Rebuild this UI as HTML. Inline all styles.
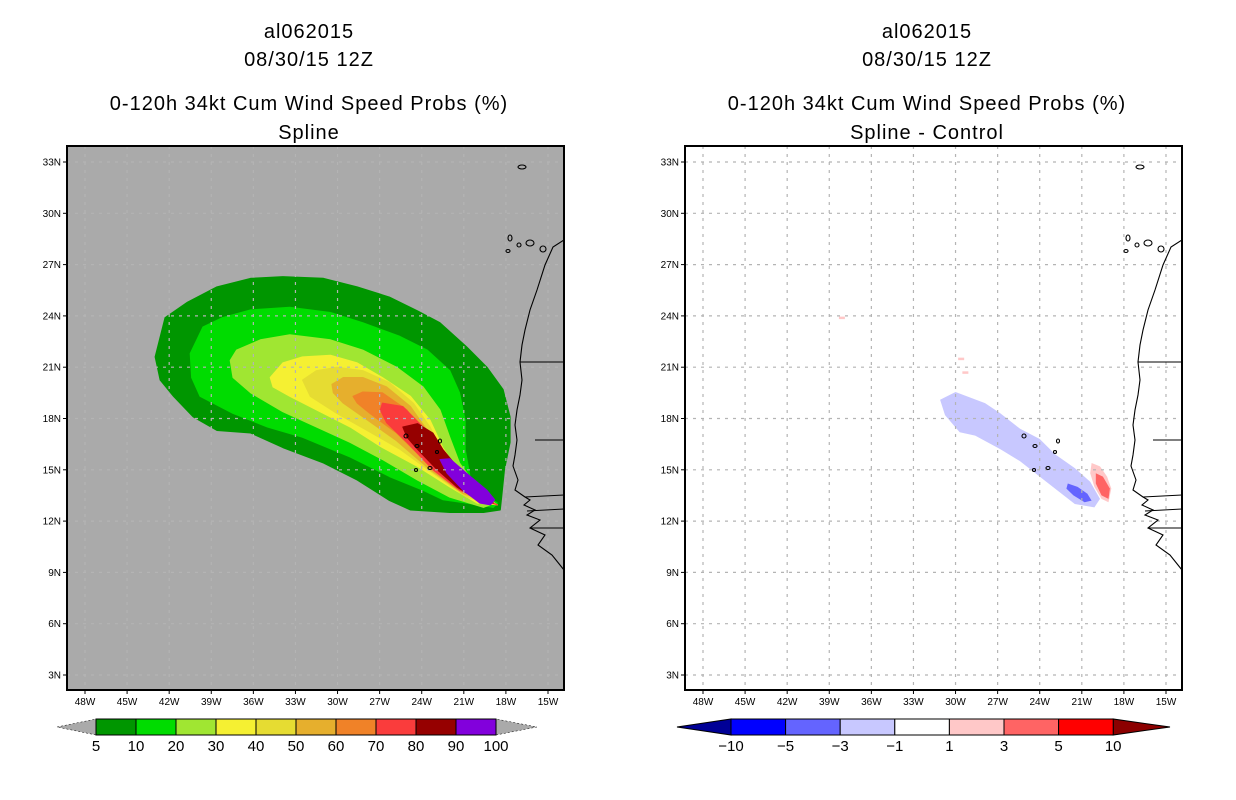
<!DOCTYPE html>
<html><head><meta charset="utf-8">
<style>
html,body{margin:0;padding:0;background:#fff;}
svg{display:block;font-family:"Liberation Sans",sans-serif;}
</style></head>
<body>
<svg id="fig" width="1236" height="800" viewBox="0 0 1236 800" xmlns="http://www.w3.org/2000/svg">
<g id="left"></g>
<g id="right"></g>
</svg>
<script>
// ---- data ----
const latTicks = [33,30,27,24,21,18,15,12,9,6,3];
const lonTicks = [48,45,42,39,36,33,30,27,24,21,18,15];
const probLevels = [5,10,20,30,40,50,60,70,80,90];
const probColors = ['#009600','#00dc00','#a0e632','#f5f032','#e6dc32','#e6af2d','#f08228','#fa3c3c','#960000','#8200dc'];
// contour boundaries (lon, lat) per probability level
const c5Lon = [-43.0,-42.3,-40.7,-38.6,-36.2,-33.9,-31.0,-28.6,-26.3,-24.3,-22.7,-20.8,-19.35,-18.2,-17.7,-17.7,-18.1,-18.3,-18.4,-19.6,-22.0,-24.8,-26.3,-28.6,-31.0,-33.9,-36.2,-38.6,-40.3,-41.7,-42.65];
const c5Lat = [21.6,23.9,24.8,25.7,26.2,26.3,26.2,25.7,25.1,24.3,23.6,22.2,21.0,19.7,18.1,16.6,15.0,13.4,12.65,12.5,12.5,12.65,13.2,14.4,15.4,16.3,17.15,17.3,18.1,19.3,20.25];
const c10Lon = [-40.5,-39.6,-38.2,-36.2,-33.4,-30.5,-28.2,-25.55,-23.6,-22.0,-21.3,-20.9,-20.9,-20.55,-19.6,-18.6,-18.9,-20.8,-22.5,-23.9,-26.3,-29.1,-32.5,-35.0,-37.45,-39.8,-40.4];
const c10Lat = [21.8,23.35,23.9,24.35,24.5,24.2,23.6,22.8,22.0,20.8,19.5,17.9,16.2,14.6,13.6,13.05,12.8,13.05,13.25,13.8,14.6,15.75,16.9,17.5,18.3,19.3,20.4];
const c20Lon = [-37.65,-37.2,-35.5,-33.4,-30.5,-28.2,-25.8,-23.9,-22.7,-22.0,-21.3,-20.05,-18.8,-19.6,-22.0,-24.3,-26.8,-29.1,-31.5,-33.9,-36.2,-37.45];
const c20Lat = [21.4,22.0,22.6,22.9,22.6,22.0,21.0,19.85,18.5,16.9,15.4,14.0,13.05,12.8,13.4,14.4,15.6,16.6,17.5,18.4,19.5,20.4];
const c30Lon = [-34.8,-33.9,-32.5,-30.5,-28.6,-26.8,-24.8,-23.4,-22.5,-21.3,-19.85,-18.6,-20.05,-22.0,-24.3,-26.8,-29.1,-31.5,-33.4,-34.6];
const c30Lat = [20.4,21.25,21.6,21.7,21.25,20.4,19.3,17.9,16.3,14.8,13.6,12.95,13.05,14.0,15.2,16.3,17.5,18.5,19.3,19.85];
const c40Lon = [-32.5,-31.5,-30.05,-28.2,-26.3,-24.6,-23.4,-22.5,-21.05,-19.6,-18.6,-20.8,-23.2,-25.55,-27.9,-30.05,-31.95];
const c40Lat = [20.25,20.8,21.0,20.8,20.1,18.9,17.5,16.0,14.4,13.4,12.95,13.4,14.8,16.2,17.3,18.3,19.3];
const c50Lon = [-30.4,-29.6,-28.2,-26.5,-24.8,-23.6,-22.7,-21.3,-19.6,-18.6,-21.05,-23.4,-25.8,-28.2,-29.6,-30.3];
const c50Lat = [20.0,20.4,20.4,19.85,18.7,17.3,15.75,14.4,13.25,12.95,13.6,15.0,16.7,18.1,18.9,19.5];
const c60Lon = [-28.9,-28.2,-26.8,-25.05,-23.9,-22.7,-21.05,-19.35,-18.6,-21.3,-23.6,-25.8,-27.7,-28.6];
const c60Lat = [19.3,19.55,19.5,18.5,17.15,15.6,14.2,13.1,12.95,13.8,15.4,17.15,18.3,18.9];
const c70Lon = [-26.95,-26.8,-25.35,-23.9,-22.7,-21.05,-19.35,-18.6,-21.3,-23.2,-25.05,-26.5];
const c70Lat = [18.5,18.9,18.7,17.5,16.0,14.4,13.25,12.95,13.8,15.0,16.6,17.75];
const c80Lon = [-25.35,-24.3,-23.2,-22.5,-21.3,-19.85,-18.9,-20.05,-21.5,-22.9,-24.3,-25.05];
const c80Lat = [17.5,17.7,17.15,16.2,15.0,13.8,13.05,13.25,14.0,15.0,16.2,16.9];
const c90Lon = [-22.7,-22.0,-20.8,-19.35,-18.8,-19.1,-19.85,-21.05,-22.2];
const c90Lat = [15.6,15.65,14.8,13.8,13.25,12.95,13.05,13.8,14.8];
const contourLons = [c5Lon,c10Lon,c20Lon,c30Lon,c40Lon,c50Lon,c60Lon,c70Lon,c80Lon,c90Lon];
const contourLats = [c5Lat,c10Lat,c20Lat,c30Lat,c40Lat,c50Lat,c60Lat,c70Lat,c80Lat,c90Lat];
const cbLabels = ['5','10','20','30','40','50','60','70','80','90','100'];
const diffLabels = ['-10','-5','-3','-1','1','3','5','10'];
const diffColors = ['#0000ff','#6464ff','#c8c8ff','#ffffff','#ffc8c8','#ff6464','#ff0000'];
const diffLightBlueLon = [-31.1,-30.0,-27.9,-26.8,-25.4,-24.0,-22.9,-21.5,-20.4,-19.7,-20.1,-21.5,-22.6,-24.0,-25.4,-26.8,-28.6,-29.7,-30.75];
const diffLightBlueLat = [19.1,19.55,18.9,18.3,17.4,16.8,15.9,15.1,14.3,13.3,12.8,13.0,13.7,14.6,15.5,16.2,17.0,17.2,18.2];
const diffBlueLon = [-22.0,-21.3,-20.6,-20.3,-20.8,-21.6,-22.1];
const diffBlueLat = [14.2,14.0,13.6,13.2,13.1,13.5,13.9];
const diffPinkLon = [-20.3,-19.7,-19.2,-18.9,-19.1,-19.6,-20.1,-20.4];
const diffPinkLat = [15.4,15.2,14.6,13.9,13.1,13.3,14.0,14.8];
const diffRedLon = [-20.0,-19.5,-19.0,-19.1,-19.6,-20.0];
const diffRedLat = [14.8,14.6,13.9,13.3,13.5,14.2];
const pinkDotsLon = [-38.1,-29.6,-29.3];
const pinkDotsLat = [23.9,21.5,20.7];

const NS='http://www.w3.org/2000/svg';
function el(p,t,a){const e=document.createElementNS(NS,t);for(const k in a)e.setAttribute(k,a[k]);p.appendChild(e);return e;}
const X0=67,X1=564,Y0=146,Y1=690;
function xs(lon,off){return 85+(48+lon)*14.03+off;}
function ys(lat){return 675-(lat-3)*17.1;}
function poly(lons,lats,off){return lons.map((v,i)=>xs(v,off).toFixed(1)+','+ys(lats[i]).toFixed(1)).join(' ');}

const coast=[[564,240],[553,247],[545,265],[537,290],[530,310],[525,330],[522,345],[520,362],[522,380],[520,395],[517,410],[515,425],[517,440],[515,455],[513,466],[518,480],[515,490],[525,497],[530,500],[524,505],[535,510],[527,515],[540,520],[530,528],[545,535],[538,545],[552,555],[560,565],[564,570]];

function panel(g,off,isLeft){
  const defsId='clip'+(isLeft?'L':'R');
  const defs=el(g,'defs',{});const cp=el(defs,'clipPath',{id:defsId});
  el(cp,'rect',{x:X0+off,y:Y0,width:X1-X0,height:Y1-Y0});
  const bg=el(g,'rect',{x:X0+off,y:Y0,width:X1-X0,height:Y1-Y0,fill:isLeft?'#aaaaaa':'#ffffff'});
  
  
  const body=el(g,'g',{'clip-path':'url(#'+defsId+')'});
  if(isLeft){
    probLevels.forEach((lv,i)=>{
      const p=el(body,'polygon',{points:poly(contourLons[i],contourLats[i],off),fill:probColors[i],'stroke':probColors[i],'stroke-width':1,'stroke-linejoin':'round'});
      
      
    });
  } else {
    const a=el(body,'polygon',{points:poly(diffLightBlueLon,diffLightBlueLat,off),fill:'#c8c8ff'});
    
    
    const b=el(body,'polygon',{points:poly(diffBlueLon,diffBlueLat,off),fill:'#6464ff'});
    
    
    const c=el(body,'polygon',{points:poly(diffPinkLon,diffPinkLat,off),fill:'#ffc8c8'});
    
    
    const d=el(body,'polygon',{points:poly(diffRedLon,diffRedLat,off),fill:'#ff6464'});
    
    
    pinkDotsLon.forEach((v,i)=>{
      const r=el(body,'rect',{x:xs(v,off)-3,y:ys(pinkDotsLat[i])-1,width:6,height:2.5,fill:'#ffc8c8'});
      
      
    });
  }
  lonTicks.forEach(t=>{const x=xs(-t,off);
    const l=el(body,'line',{x1:x,y1:Y0,x2:x,y2:Y1,stroke:'#b4b4b4','stroke-width':1.2,'stroke-dasharray':'3,5'});
    
    });
  latTicks.forEach(t=>{const y=ys(t);
    const l=el(body,'line',{x1:X0+off,y1:y,x2:X1+off,y2:y,stroke:'#b4b4b4','stroke-width':1.2,'stroke-dasharray':'3,5'});
    
    });
  const cl=el(body,'polyline',{points:coast.map(p=>(p[0]+off)+','+p[1]).join(' '),fill:'none',stroke:'#000','stroke-width':1.1});
  
  
  [[520,362,564,362],[535,440,564,440],[525,497,564,495],[527,511,564,509],[530,528,564,528]].forEach(s=>{
    const b=el(body,'line',{x1:s[0]+off,y1:s[1],x2:s[2]+off,y2:s[3],stroke:'#000','stroke-width':1.1});
    
    });
  [[522,167,4,2],[510,238,2,3],[508,251,2,1.5],[519,245,2,2],[530,243,4,3],[543,249,3,3],[406,436,2,2],[417,446,2,1.5],[440,441,1.5,2],[437,452,1.5,1.5],[430,468,2,1.5],[416,470,1.5,1.5]].forEach(s=>{
    const e=el(body,'ellipse',{cx:s[0]+off,cy:s[1],rx:s[2],ry:s[3],fill:'none',stroke:'#000','stroke-width':1.1});
    
    });
  const fr=el(g,'rect',{x:X0+off,y:Y0,width:X1-X0,height:Y1-Y0,fill:'none',stroke:'#000','stroke-width':2});
  
  
  latTicks.forEach(t=>{const y=ys(t);
    el(g,'line',{x1:X0+off-4,y1:y,x2:X0+off,y2:y,stroke:'#000'});
    const tx=el(g,'text',{x:X0+off-6,y:y+3.5,'font-size':10,'text-anchor':'end'});tx.textContent=t+'N';
    
    });
  lonTicks.forEach(t=>{const x=xs(-t,off);
    el(g,'line',{x1:x,y1:Y1,x2:x,y2:Y1+4,stroke:'#000'});
    const tx=el(g,'text',{x:x,y:Y1+15,'font-size':10,'text-anchor':'middle'});tx.textContent=t+'W';
    
    });
  const cx=309+off;
  const titles=[['al062015',38],['08/30/15 12Z',66],['0-120h 34kt Cum Wind Speed Probs (%)',110],[isLeft?'Spline':'Spline - Control',139]];
  titles.forEach((t,i)=>{const tx=el(g,'text',{x:cx,y:t[1],'font-size':20,'text-anchor':'middle','letter-spacing':'1'});tx.textContent=t[0];
    
    });
}
panel(document.getElementById('left'),0,true);
panel(document.getElementById('right'),618,false);

(function(){
  const g=document.getElementById('left');
  const y=719,h=16,x0=96,w=40;
  const lt=el(g,'polygon',{points:`57,${y+h/2} ${x0},${y} ${x0},${y+h}`,fill:'#aaaaaa',stroke:'#000','stroke-width':0.5,'stroke-dasharray':'2,2'});
  
  
  const rt=el(g,'polygon',{points:`${x0+10*w},${y} ${x0+10*w},${y+h} 537,${y+h/2}`,fill:'#aaaaaa',stroke:'#000','stroke-width':0.5,'stroke-dasharray':'2,2'});
  
  
  probColors.forEach((c,i)=>{const r=el(g,'rect',{x:x0+i*w,y:y,width:w,height:h,fill:c,stroke:'#000','stroke-width':1});
    
    });
  cbLabels.forEach((s,i)=>{const t=el(g,'text',{x:x0+i*w,y:751,'font-size':15,'text-anchor':'middle'});t.textContent=s;
    
    });
})();
(function(){
  const g=document.getElementById('right');
  const y=719,h=16,x0=731,w=54.6;
  const lt=el(g,'polygon',{points:`677,${y+h/2} ${x0},${y} ${x0},${y+h}`,fill:'#000096',stroke:'#000','stroke-width':1});
  
  
  const rt=el(g,'polygon',{points:`${x0+7*w},${y} ${x0+7*w},${y+h} 1170,${y+h/2}`,fill:'#8c0000',stroke:'#000','stroke-width':1});
  
  
  diffColors.forEach((c,i)=>{const r=el(g,'rect',{x:x0+i*w,y:y,width:w,height:h,fill:c,stroke:'#000','stroke-width':1});
    
    });
  diffLabels.forEach((s,i)=>{const t=el(g,'text',{x:x0+i*w,y:751,'font-size':15,'text-anchor':'middle'});t.textContent=s.replace('-','\u2212');
    
    });
})();
</script>
</body></html>
